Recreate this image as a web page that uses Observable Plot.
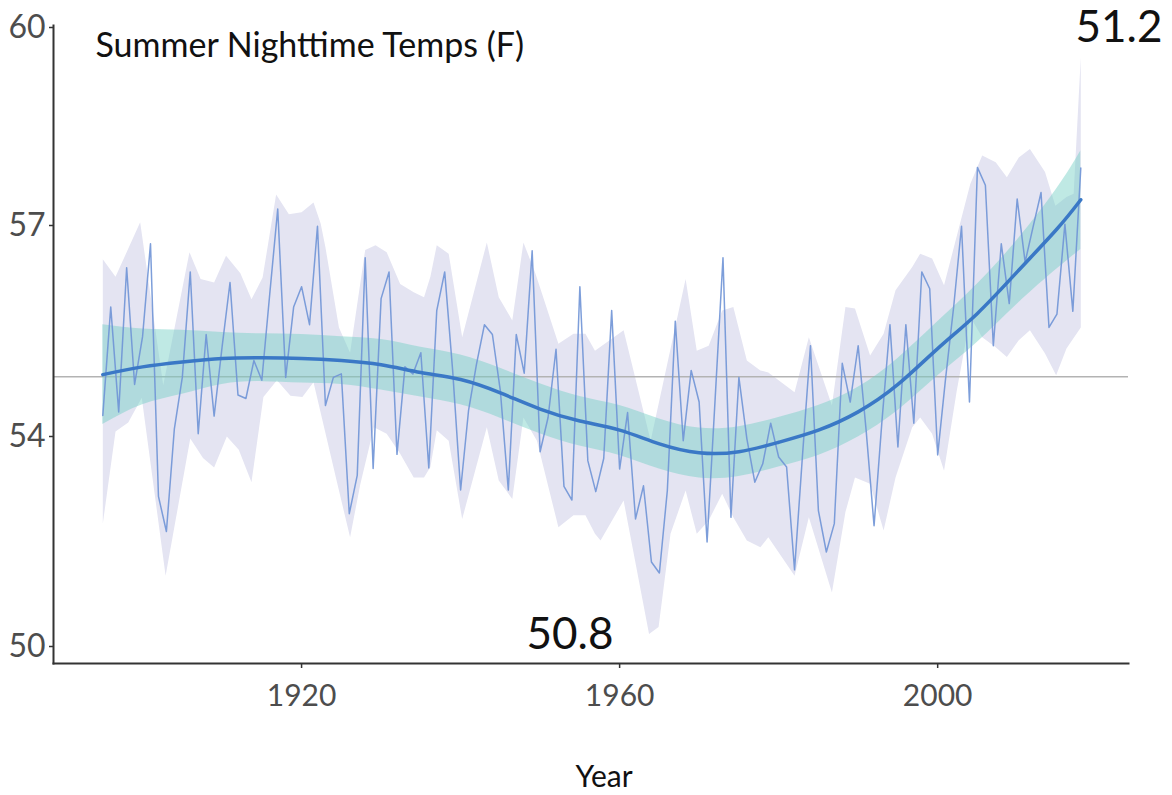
<!DOCTYPE html>
<html><head><meta charset="utf-8">
<script src="https://cdn.jsdelivr.net/npm/d3@7"></script>
<script src="https://cdn.jsdelivr.net/npm/@observablehq/plot@0.6"></script>
<style>
html,body{margin:0;padding:0;background:#fff;}
#chart svg{display:block;}
</style></head><body><div id="chart"></div>
<script>
// ---- data ----
const titleText = "Summer Nighttime Temps (F)";
const xAxisLabel = "Year";
const annotationTop = "51.2";
const annotationBottom = "50.8";
const xTicks = [1920, 1960, 2000];
const yTicks = [50, 54, 57, 60];
const yTickLabels = ["50", "54", "57", "60"];
const referenceValue = 54.85;

const years = [
  1895,1896,1897,1898,1899,1900,1901,1902,1903,1904,1905,1906,1907,1908,1909,
  1910,1911,1912,1913,1914,1915,1916,1917,1918,1919,1920,1921,1922,1923,1924,
  1925,1926,1927,1928,1929,1930,1931,1932,1933,1934,1935,1936,1937,1938,1939,
  1940,1941,1942,1943,1944,1945,1946,1947,1948,1949,1950,1951,1952,1953,1954,
  1955,1956,1957,1958,1959,1960,1961,1962,1963,1964,1965,1966,1967,1968,1969,
  1970,1971,1972,1973,1974,1975,1976,1977,1978,1979,1980,1981,1982,1983,1984,
  1985,1986,1987,1988,1989,1990,1991,1992,1993,1994,1995,1996,1997,1998,1999,
  2000,2001,2002,2003,2004,2005,2006,2007,2008,2009,2010,2011,2012,2013,2014,
  2015,2016,2017,2018
];
const annualTemps = [
  54.30,55.84,54.35,56.40,54.74,55.42,56.74,52.86,52.19,54.11,54.84,56.34,54.04,55.45,54.29,
  55.27,56.19,54.59,54.54,55.08,54.80,56.03,57.25,54.84,55.84,56.13,55.59,56.99,54.44,54.84,
  54.89,52.53,53.26,56.54,53.39,55.96,56.34,53.66,54.99,54.89,55.19,53.40,55.79,56.34,54.94,
  52.98,54.37,55.03,55.59,55.45,54.65,52.98,55.45,54.90,56.64,53.71,54.27,55.24,53.05,52.79,
  56.13,53.54,52.95,53.58,55.79,53.38,54.34,52.43,53.06,51.61,51.40,52.97,55.64,53.92,54.94,
  54.49,51.99,54.51,56.54,52.46,54.84,53.96,53.13,53.48,54.19,53.61,53.42,51.46,53.64,55.29,
  52.59,51.80,52.34,55.04,54.49,55.29,54.09,52.30,54.23,55.59,53.80,55.59,54.19,56.34,56.10,
  53.65,54.83,55.83,56.99,54.49,57.88,57.61,55.29,56.74,55.89,57.40,56.48,56.98,57.50,55.55,
  55.74,57.02,55.78,57.87
];

const smoothYears = [1895,1900,1905,1910,1915,1920,1925,1930,1935,1940,1945,1950,1955,1960,1965,1970,1975,1980,1985,1990,1995,2000,2005,2010,2015,2018];
const smoothFit  = [54.88,54.99,55.06,55.11,55.12,55.11,55.08,55.02,54.91,54.81,54.62,54.39,54.22,54.09,53.86,53.69,53.71,53.89,54.09,54.35,54.74,55.25,55.75,56.34,56.95,57.39];
const smoothLow  = [54.17,54.45,54.60,54.74,54.78,54.76,54.74,54.66,54.56,54.45,54.26,54.04,53.82,53.64,53.38,53.21,53.24,53.42,53.64,53.99,54.37,54.86,55.34,55.88,56.38,56.66];
const smoothHigh = [55.59,55.53,55.51,55.48,55.46,55.45,55.42,55.38,55.27,55.16,54.97,54.75,54.57,54.44,54.25,54.12,54.14,54.27,54.44,54.70,55.11,55.63,56.17,56.79,57.56,58.13];

const rangeUpperYears = [1895.0,1896.6,1899.7,1902.6,1905.9,1907.3,1909.0,1910.5,1912.3,1913.7,1915.1,1916.8,1918.4,1920.0,1921.5,1922.4,1923.0,1924.7,1926.1,1928.0,1929.3,1930.7,1932.4,1934.1,1935.4,1936.2,1937.0,1938.5,1940.2,1943.3,1944.8,1946.5,1947.9,1949.4,1952.3,1954.2,1955.7,1956.9,1960.5,1963.9,1968.3,1969.7,1971.2,1972.9,1974.3,1976.0,1977.7,1978.7,1982.0,1983.8,1986.7,1988.4,1989.6,1991.5,1993.2,1994.7,1996.8,1997.8,1999.3,2000.8,2004.1,2005.6,2007.3,2008.7,2010.2,2011.6,2013.5,2014.8,2016.2,2017.1,2018.0];
const rangeUpperTemps = [56.52,56.27,57.05,54.73,56.62,56.24,56.19,56.57,56.32,55.95,56.26,57.47,57.17,57.20,57.35,57.03,56.69,55.55,55.19,56.65,56.72,56.62,56.17,56.05,55.98,56.27,56.72,56.60,55.41,56.76,55.98,55.65,56.76,56.32,55.32,55.46,55.46,55.22,55.51,53.92,56.24,55.22,55.29,55.79,55.84,55.08,54.94,54.91,54.63,55.41,54.44,55.84,55.82,55.15,55.46,56.08,56.41,56.60,56.53,56.15,57.63,58.06,57.96,57.73,58.03,58.16,57.81,57.30,57.43,57.48,59.55];
const rangeLowerYears = [1895.0,1896.6,1898.2,1899.9,1902.9,1906.0,1907.6,1909.0,1910.6,1912.1,1913.7,1915.2,1916.9,1918.6,1920.1,1921.5,1924.5,1926.1,1927.4,1929.1,1930.7,1932.4,1934.1,1935.4,1936.2,1937.0,1938.5,1940.2,1943.3,1944.8,1946.5,1947.9,1949.6,1952.3,1954.2,1955.7,1956.9,1957.6,1960.5,1963.7,1964.9,1966.4,1968.3,1969.7,1971.2,1972.9,1974.3,1976.0,1977.7,1978.7,1982.0,1983.8,1986.7,1988.4,1989.6,1991.5,1993.2,1994.7,1996.8,1997.8,1999.3,2000.8,2002.4,2004.1,2005.6,2007.3,2008.7,2010.2,2011.6,2013.5,2014.9,2016.2,2018.0];
const rangeLowerTemps = [52.34,54.07,54.20,54.55,51.35,53.96,53.59,53.41,54.00,53.75,53.13,54.56,54.80,54.58,54.56,54.77,53.10,52.08,53.10,54.13,54.04,53.67,53.22,53.22,53.42,54.09,53.92,52.43,54.13,53.16,52.81,54.27,53.92,52.27,52.50,52.50,52.15,52.02,52.78,50.24,50.37,52.15,52.97,52.15,52.40,52.91,52.46,52.02,51.89,52.08,51.35,52.46,51.03,52.56,53.22,53.10,52.21,53.22,54.13,54.27,54.04,53.35,54.65,55.70,55.41,55.27,55.13,55.37,55.51,55.18,54.87,55.25,55.55];

// ---- tables built from arrays ----
const annual = years.map((year, i) => ({year, temp: annualTemps[i]}));
const smooth = smoothYears.map((year, i) => ({year, fit: smoothFit[i], lo: smoothLow[i], hi: smoothHigh[i]}));
const rangePolygon = [
  ...rangeUpperYears.map((year, i) => ({year, temp: rangeUpperTemps[i]})),
  ...rangeLowerYears.map((year, i) => ({year, temp: rangeLowerTemps[i]})).reverse()
];

const FONT = "Lato, 'Noto Sans', sans-serif";

const chart = Plot.plot({
  width: 1172,
  height: 795,
  marginLeft: 53,
  marginRight: 44,
  marginTop: 25,
  marginBottom: 132,
  style: {fontFamily: FONT, background: "#ffffff", overflow: "visible"},
  x: {domain: [1888.8, 2024], label: null},
  y: {type: "linear", domain: yTicks, range: [646, 436, 225, 27], label: null},
  marks: [
    Plot.line(rangePolygon, {x: "year", y: "temp", fill: "#e4e4f2", stroke: "none", curve: "linear"}),
    Plot.ruleY([referenceValue], {stroke: "#b3b3b3", strokeWidth: 1.6}),
    Plot.areaY(smooth, {x: "year", y1: "lo", y2: "hi", fill: "#72cfc3", fillOpacity: 0.45, curve: "natural"}),
    Plot.line(annual, {x: "year", y: "temp", stroke: "#6f93d6", strokeWidth: 1.5, strokeOpacity: 0.9}),
    Plot.line(smooth, {x: "year", y: "fit", stroke: "#3a78c6", strokeWidth: 3.5, curve: "natural"}),
    Plot.frame({anchor: "left", stroke: "#333333", strokeWidth: 2}),
    Plot.frame({anchor: "bottom", stroke: "#333333", strokeWidth: 2}),
    Plot.axisY({ticks: yTicks, tickFormat: (d) => yTickLabels[yTicks.indexOf(d)], tickSize: 4, tickPadding: 4,
      fontSize: 32, fill: "#4d4d4d", stroke: "#333333", strokeWidth: 1.5, label: null}),
    Plot.axisX({ticks: xTicks, tickFormat: (d) => String(d), tickSize: 5, tickPadding: 16,
      fontSize: 30, fill: "#4d4d4d", stroke: "#333333", strokeWidth: 1.5, label: null}),
    Plot.text([titleText], {frameAnchor: "top-left", dx: 42, dy: 7, lineAnchor: "top", textAnchor: "start",
      fontSize: 34, fill: "#111111", fontFamily: FONT}),
    Plot.text([annotationTop], {frameAnchor: "top-right", dx: 34, dy: -15, lineAnchor: "top", textAnchor: "end",
      fontSize: 44, fill: "#111111", fontFamily: FONT}),
    Plot.text([annotationBottom], {frameAnchor: "bottom", dx: -21, dy: -15, lineAnchor: "bottom", textAnchor: "middle",
      fontSize: 44, fill: "#111111", fontFamily: FONT}),
    Plot.text([xAxisLabel], {frameAnchor: "bottom", dx: 13, dy: 123, lineAnchor: "bottom", textAnchor: "middle",
      fontSize: 30, fill: "#111111", fontFamily: FONT})
  ]
});
document.getElementById("chart").appendChild(chart);
</script></body></html>
